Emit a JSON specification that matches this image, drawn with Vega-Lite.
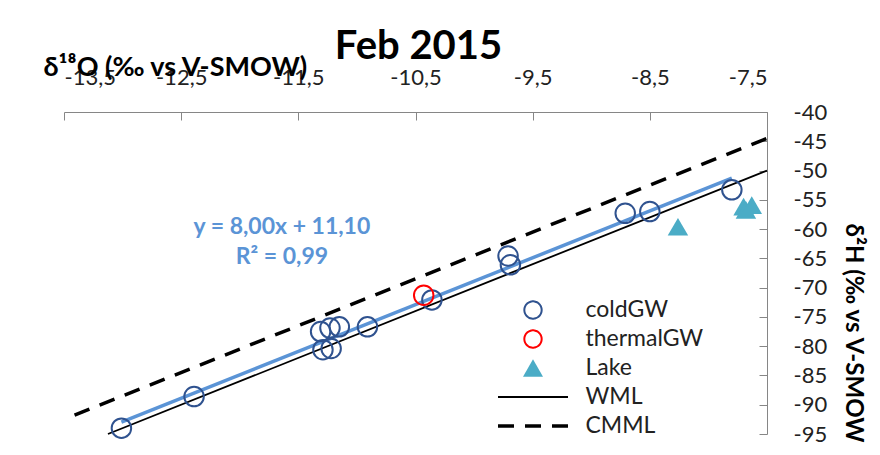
{
  "$schema": "https://vega.github.io/schema/vega-lite/v6.json",
  "width": 703,
  "height": 322,
  "autosize": {"type": "none"},
  "padding": {"left": 64, "top": 112, "right": 113, "bottom": 21},
  "background": "white",
  "config": {
    "locale": {"number": {"decimal": ",", "thousands": ".", "grouping": [3], "currency": ["", " €"], "minus": "-"}},
    "view": {"stroke": null},
    "font": "Lato",
    "axis": {
      "grid": false,
      "domainColor": "#868686",
      "tickColor": "#868686",
      "tickSize": -8,
      "labelFont": "Lato",
      "labelFontSize": 22,
      "labelColor": "#222222",
      "titleFont": "Lato",
      "titleFontWeight": "bold",
      "titleColor": "#000000"
    }
  },
  "title": {
    "text": "Feb 2015",
    "font": "Lato",
    "fontSize": 40,
    "fontWeight": "bold",
    "color": "#000000",
    "anchor": "middle",
    "frame": "group",
    "baseline": "alphabetic",
    "offset": -46,
    "dx": 3
  },
  "data": {
    "values": [
      {"series": "coldGW", "d18O": -13.01, "d2H": -94.0},
      {"series": "coldGW", "d18O": -12.39, "d2H": -88.6},
      {"series": "coldGW", "d18O": -11.31, "d2H": -77.5},
      {"series": "coldGW", "d18O": -11.23, "d2H": -76.9},
      {"series": "coldGW", "d18O": -11.15, "d2H": -76.7},
      {"series": "coldGW", "d18O": -11.29, "d2H": -80.6},
      {"series": "coldGW", "d18O": -11.22, "d2H": -80.4},
      {"series": "coldGW", "d18O": -10.91, "d2H": -76.7},
      {"series": "coldGW", "d18O": -10.36, "d2H": -72.1},
      {"series": "coldGW", "d18O": -9.71, "d2H": -64.6},
      {"series": "coldGW", "d18O": -9.69, "d2H": -66.1},
      {"series": "coldGW", "d18O": -8.71, "d2H": -57.3},
      {"series": "coldGW", "d18O": -8.5, "d2H": -57.0},
      {"series": "coldGW", "d18O": -7.8, "d2H": -53.3},
      {"series": "thermalGW", "d18O": -10.43, "d2H": -71.3},
      {"series": "Lake", "d18O": -8.26, "d2H": -59.6},
      {"series": "Lake", "d18O": -7.7, "d2H": -56.15},
      {"series": "Lake", "d18O": -7.68, "d2H": -56.7},
      {"series": "Lake", "d18O": -7.63, "d2H": -55.9},
      {"series": "WML", "d18O": -13.125, "d2H": -95.0},
      {"series": "WML", "d18O": -7.5, "d2H": -50.0},
      {"series": "CMML", "d18O": -13.41, "d2H": -91.78},
      {"series": "CMML", "d18O": -7.5, "d2H": -44.5},
      {"series": "fit", "d18O": -13.01, "d2H": -92.98},
      {"series": "fit", "d18O": -7.8, "d2H": -51.3}
    ]
  },
  "encoding": {
    "x": {
      "field": "d18O",
      "type": "quantitative",
      "scale": {"domain": [-13.5, -7.5], "nice": false, "zero": false},
      "axis": {
        "orient": "top",
        "values": [-13.5, -12.5, -11.5, -10.5, -9.5, -8.5, -7.5],
        "format": ".1f",
        "labelPadding": 31,
        "title": "δ¹⁸O (‰ vs V-SMOW)",
        "titleFontSize": 27,
        "titleAlign": "left",
        "titleBaseline": "alphabetic",
        "titleX": -21,
        "titleY": -37
      }
    },
    "y": {
      "field": "d2H",
      "type": "quantitative",
      "scale": {"domain": [-95, -40], "nice": false, "zero": false},
      "axis": {
        "orient": "right",
        "values": [-95, -90, -85, -80, -75, -70, -65, -60, -55, -50, -45, -40],
        "labelPadding": 34,
        "title": "δ²H (‰ vs V-SMOW",
        "titleFontSize": 24,
        "titleAngle": 90,
        "titleAlign": "left",
        "titleBaseline": "middle",
        "titleX": 85,
        "titleY": 111
      }
    }
  },
  "layer": [
    {
      "transform": [{"filter": "datum.series === 'WML'"}],
      "mark": {"type": "line", "strokeWidth": 1.8},
      "encoding": {
        "color": {
          "field": "series",
          "type": "nominal",
          "scale": {
            "domain": ["coldGW", "thermalGW", "Lake", "WML", "CMML"],
            "range": ["#2F528F", "#FF0000", "#4BACC6", "#000000", "#000000"]
          },
          "legend": {
            "orient": "none",
            "legendX": 433,
            "legendY": 186,
            "direction": "vertical",
            "columns": 1,
            "title": null,
            "padding": 0,
            "rowPadding": 5,
            "clipHeight": 24,
            "symbolSize": 4900,
            "labelFont": "Lato",
            "labelFontSize": 23,
            "labelColor": "#222222",
            "symbolOffset": 24.5,
            "labelOffset": 41,
            "encode": {
              "symbols": {
                "update": {
                  "shape": {"signal": "datum.value === 'Lake' ? 'triangle-up' : ((datum.value === 'WML' || datum.value === 'CMML') ? 'stroke' : 'circle')"},
                  "size": {"signal": "(datum.value === 'WML' || datum.value === 'CMML') ? 4900 : (datum.value === 'Lake' ? 400 : 300)"},
                  "fill": {"signal": "datum.value === 'Lake' ? '#4BACC6' : 'transparent'"},
                  "stroke": {"signal": "datum.value === 'coldGW' ? '#2F528F' : (datum.value === 'thermalGW' ? '#FF0000' : (datum.value === 'Lake' ? '#4BACC6' : '#000000'))"},
                  "strokeWidth": {"signal": "datum.value === 'CMML' ? 3.5 : (datum.value === 'Lake' ? 0 : 2)"},
                  "strokeDash": {"signal": "datum.value === 'CMML' ? [16, 11] : [1, 0]"},
                  "opacity": {"value": 1}
                }
              }
            }
          }
        }
      }
    },
    {
      "transform": [{"filter": "datum.series === 'CMML'"}],
      "mark": {"type": "line", "strokeWidth": 3.5, "strokeDash": [16, 11]},
      "encoding": {
        "color": {"field": "series", "type": "nominal"}
      }
    },
    {
      "transform": [{"filter": "datum.series === 'fit'"}],
      "mark": {"type": "line", "strokeWidth": 3.5, "color": "#5B94D6"},
      "encoding": {}
    },
    {
      "transform": [{"filter": "datum.series === 'coldGW' || datum.series === 'thermalGW'"}],
      "mark": {"type": "point", "shape": "circle", "filled": false, "size": 380, "strokeWidth": 2, "opacity": 1},
      "encoding": {
        "color": {"field": "series", "type": "nominal"}
      }
    },
    {
      "transform": [{"filter": "datum.series === 'Lake'"}],
      "mark": {"type": "point", "shape": "triangle-up", "filled": true, "size": 420, "opacity": 1, "color": "#4BACC6"},
      "encoding": {}
    },
    {
      "data": {
        "values": [
          {"label": "y = 8,00x + 11,10", "lx": -11.64, "ly": -59.64},
          {"label": "R² = 0,99", "lx": -11.64, "ly": -64.77}
        ]
      },
      "mark": {"type": "text", "font": "Lato", "fontSize": 23, "fontWeight": "bold", "color": "#5B94D6", "align": "center", "baseline": "middle"},
      "encoding": {
        "x": {"field": "lx", "type": "quantitative"},
        "y": {"field": "ly", "type": "quantitative"},
        "text": {"field": "label"}
      }
    }
  ]
}
